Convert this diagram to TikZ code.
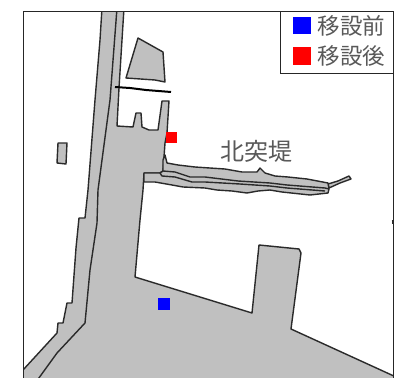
\documentclass[tikz,border=0pt]{standalone}
\usepackage{fontspec}
\newfontfamily\cjk{Noto Sans CJK JP}
\definecolor{land}{HTML}{C0C0C0}
\definecolor{ink}{HTML}{2A2A2A}
\tikzset{
  landform/.style={fill=land,draw=ink,line width=1.4pt,line join=round},
  shoreline/.style={draw=ink,line width=1.4pt,line join=round},
  frameline/.style={draw=black!85,line width=1pt},
  marker/.style={minimum width=#1,minimum height=#1,inner sep=0pt,outer sep=0pt},
  legendtext/.style={font=\cjk\fontsize{22.5}{22.5}\selectfont,text=black!65,inner sep=0pt},
  pointname/.style={font=\cjk\fontsize{24}{24}\selectfont,text=black!65,inner sep=0pt},
}
\begin{document}
\begin{tikzpicture}[x=1pt,y=-1pt]
\useasboundingbox (0,0) rectangle (397,378);
\fill[white] (0,0) rectangle (397,378);
\begin{scope}
\clip (23,11.5) rectangle (393.5,378);
% main land
\path[landform] (102,8) -- (100,40) -- (95,100) -- (88,190) -- (85,218) -- (79,218) -- (76,248) -- (72,303) -- (67,303) -- (63,323) -- (58,323) -- (57,333) -- (23,370) -- (20,384)
 -- (396,384) -- (396,377) -- (291,329) -- (301,253) -- (299,249) -- (259,245) -- (252,313) -- (200,297) -- (135,277) -- (140,220) -- (143,190)
 -- (144,173) -- (160,173) -- (163,171) -- (165,143) -- (167,133) -- (169,101) -- (162,101) -- (158,130) -- (149,130) -- (142,127) -- (141,113) -- (136,113) -- (133,127) -- (117,126) -- (119,88) -- (124,8) -- cycle;
% north breakwater
\path[landform] (328,184) -- (338,181) -- (349,176) -- (351,179) -- (340,183) -- (329,188) -- cycle;
\path[landform] (165,155) -- (167,163) -- (178,165) -- (195,167) -- (210,168) -- (225,169) -- (242,172) -- (257,172) -- (260,168) -- (265,173) -- (275,176) -- (288,177) -- (307,179) -- (328,183) -- (329,189) -- (328,193) -- (310,195) -- (282,192) -- (270,190) -- (258,191) -- (247,193) -- (232,191) -- (217,190) -- (205,188) -- (183,187) -- (172,185) -- (155,182) -- (144,182) -- (144,173) -- (160,173) -- (163,171) -- (163,160) -- cycle;
\path[shoreline] (163,171) -- (175,172) -- (190,177) -- (205,177) -- (238,181) -- (270,183) -- (287,185) -- (325,188) -- (329,189);
\path[shoreline] (160,173) -- (162,176) -- (175,177) -- (192,182) -- (205,182) -- (240,184) -- (270,186) -- (287,188) -- (325,191);
% inner shoreline of the west strip
\path[shoreline] (117,8) -- (110,100) -- (98,190) -- (97,223) -- (90,270) -- (85,323) -- (57,353) -- (36,382);
% islands
\path[landform] (138,38) -- (163,52) -- (165,82) -- (155,80) -- (126,78) -- cycle;
\path[landform] (58,143) -- (67,143) -- (66,164) -- (57,163) -- cycle;
\end{scope}
% pier
\coordinate (pierA) at (115,87);
\coordinate (pierB) at (171,92);
\draw[black,line width=2pt] (pierA) -- (130,88) -- (146,90) -- (pierB);
% markers
\node[marker=11pt,fill=red] (after) at (171,137.5) {};
\node[marker=12pt,fill=blue] (before) at (164,304) {};
% frame
\draw[frameline] (23,378) -- (23,11.5) -- (393.5,11.5) -- (393.5,378);
\path[shoreline] (391.5,221) -- (393,221) -- (393,224);
% legend
\draw[frameline,fill=white] (280,11.5) rectangle (393.5,73.5);
\node[marker=17.5pt,fill=blue] (legendBlue) at (302,25.5) {};
\node[marker=17.5pt,fill=red] (legendRed) at (302,56) {};
\node[legendtext] (labelBefore) at (351.5,25.5) {移設前};
\node[legendtext] (labelAfter) at (351.5,55.5) {移設後};
\node[pointname] (pierName) at (256,151.5) {北突堤};
\end{tikzpicture}
\end{document}
